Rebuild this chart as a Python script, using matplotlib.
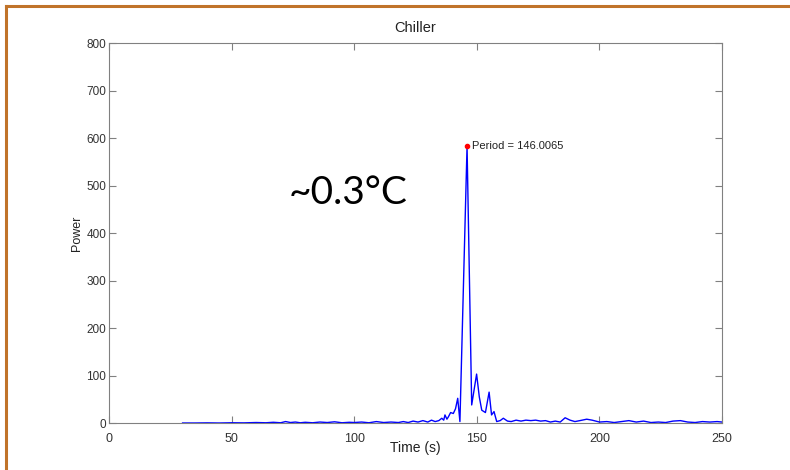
import matplotlib.pyplot as plt
from matplotlib.lines import Line2D

# periodogram of chiller signal
period = [30, 35, 40, 45, 50, 55, 60, 64, 67, 70, 72, 74, 76, 78, 80, 83, 86, 89,
          92, 95, 98, 100, 103, 106, 109, 112, 115, 118, 120, 122, 124, 126, 128,
          130, 131.5, 133, 134.5, 135.7, 136.5, 137, 137.8, 138.4, 139.3, 140.4,
          141.3, 142.2, 143.1, 146.0065, 147.9, 149.9, 151, 152, 153.5, 155, 156,
          157, 158.1, 159.5, 160.8, 162.5, 164, 166, 168, 170, 172, 174, 176, 178,
          180, 182, 184, 186, 188, 190, 192, 194.8, 197, 200, 203, 206, 209, 212,
          215, 218, 221, 224, 227, 230, 233, 236, 239, 242, 245, 248, 250]
power = [0, 0, 0.3, 0, 0.5, 0.3, 1, 0.5, 1.5, 0.5, 3, 1, 2, 0.5, 1.5, 0.5, 2, 1,
         2.5, 0.5, 1.5, 1, 2, 0.5, 3, 1, 2, 1, 3, 1, 4, 2, 5,
         2, 6, 3, 5, 10, 6, 17, 8, 13, 22, 20,
         30, 52, 3, 583, 38, 103, 55, 27, 22, 65, 17,
         24, 3, 5, 10, 4, 3, 6, 4, 6, 5, 6, 4, 5,
         2, 4, 2, 11, 6, 3, 5, 8, 6, 2, 3, 1, 3, 5,
         2, 4, 1, 2, 1, 4, 5, 2, 1, 3, 2, 3, 2]

peak_period = 146.0065
peak_power = 583

plt.rcParams['font.family'] = ['Liberation Sans', 'DejaVu Sans']

fig = plt.figure(figsize=(7.9, 4.7), dpi=100)
ax = fig.add_axes([0.138, 0.1, 0.776, 0.8085])

ax.plot(period, power, color='blue', linewidth=1)
ax.plot([peak_period], [peak_power], 'o', color='red', markersize=3)
ax.text(peak_period + 2, peak_power, 'Period = %.4f' % peak_period,
        fontsize=8, va='center', ha='left', color='#222222')

ax.set_xlim(0, 250)
ax.set_ylim(0, 800)
ax.set_xticks([0, 50, 100, 150, 200, 250])
ax.set_yticks(range(0, 801, 100))
ax.tick_params(direction='in', top=True, right=True, length=5,
               color='#808080', labelsize=8.5, labelcolor='#333333')
ax.tick_params(axis='x', pad=7, labelsize=9)
ax.tick_params(axis='y', pad=2)
for s in ax.spines.values():
    s.set_color('#808080')

ax.set_title('Chiller', fontsize=10.5, color='#222222', pad=8)
ax.set_xlabel('Time (s)', fontsize=10, color='#222222', labelpad=-3)
ax.set_ylabel('Power', fontsize=9, color='#222222')
ax.yaxis.set_label_coords(-0.043, 0.5)

fig.text(348 / 790, 1 - 193 / 470, '~0.3°C', fontsize=28, family=['Lato', 'DejaVu Sans'],
         ha='center', va='center', color='black')

# orange frame along top and left
fig.add_artist(Line2D([6 / 790, 1], [1 - 6 / 470, 1 - 6 / 470], color='#C0732A', linewidth=2.2))
fig.add_artist(Line2D([6 / 790, 6 / 790], [0, 1 - 6 / 470], color='#C0732A', linewidth=2.2))

fig.savefig('out.png', dpi=100)
